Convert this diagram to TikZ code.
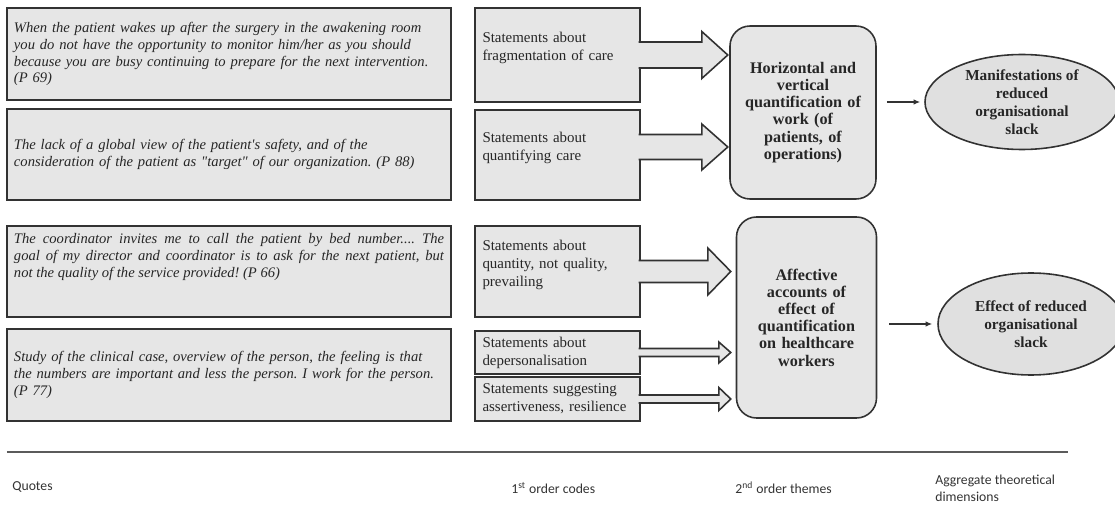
\documentclass[tikz,border=0pt]{standalone}
\usepackage{fontspec}
\setmainfont{Liberation Serif}
\newfontfamily\captionfont{Carlito}
\usetikzlibrary{arrows.meta,positioning,shapes.geometric}
\definecolor{boxfill}{RGB}{230,230,230}
\definecolor{ovalfill}{RGB}{224,224,224}
\definecolor{boxline}{RGB}{50,50,50}
\frenchspacing

% block arrow: anchor, half shaft, half head, neck, tip
\newcommand{\fatarrow}[5]{%
  \filldraw[draw=boxline,line width=0.9pt,fill=boxfill,line join=miter]
    ([xshift=-1.2pt,yshift=#2]#1) -- ([xshift=#4,yshift=#2]#1)
    -- ([xshift=#4,yshift=#3]#1) -- ([xshift=#5]#1)
    -- ([xshift=#4,yshift=-#3]#1) -- ([xshift=#4,yshift=-#2]#1)
    -- ([xshift=-1.2pt,yshift=-#2]#1);}

\begin{document}
\begin{tikzpicture}[
    quote/.style={draw=boxline,line width=0.9pt,fill=boxfill,minimum width=8.88cm,
      text width=8.6cm,inner xsep=0.14cm,inner ysep=0pt,align=left,text=black!85,
      font=\fontsize{8.3}{9.6}\selectfont\itshape},
    code/.style={draw=boxline,line width=0.9pt,fill=boxfill,minimum width=3.3cm,
      text width=3.0cm,inner xsep=0.15cm,inner ysep=0pt,align=left,text=black!85,
      font=\fontsize{8.5}{10.2}\selectfont},
    theme/.style={draw=boxline,line width=0.9pt,fill=boxfill,rounded corners=0.4cm,
      text width=2.6cm,inner xsep=0.1cm,align=center,text=black!85,
      font=\fontsize{9.2}{9.8}\selectfont\bfseries},
    dimension/.style={ellipse,draw=boxline,line width=0.9pt,fill=ovalfill,align=center,
      inner sep=0pt,text=black!85,font=\fontsize{8.7}{10.2}\selectfont\bfseries},
    link/.style={line width=0.7pt,draw=boxline,-{Latex[length=1.3mm,width=1.1mm]}},
    heading/.style={anchor=west,align=left,inner sep=0pt,text=black!80,
      font=\fontsize{7.8}{9.4}\selectfont\captionfont}
  ]
  \useasboundingbox (0,0) rectangle (22.3,-10.28);
  % quotes
  \node[quote,minimum height=1.84cm] (q1) at (4.58,-1.08) {When the patient wakes up after the surgery in the awakening room\\
    you do not have the opportunity to monitor him/her as you should\\
    because you are busy continuing to prepare for the next intervention.\\
    (P 69)};
  \node[quote,minimum height=1.82cm] (q2) at (4.58,-3.09) {The lack of a global view of the patient\textquotesingle s safety, and of the\\
    consideration of the patient as \textquotedbl target\textquotedbl{} of our organization. (P 88)};
  \node[quote,align=justify,text height=0.36cm,text depth=1.46cm] (q3) at (4.58,-5.43) {The coordinator invites me to call the patient by bed number.... The\linebreak
    goal of my director and coordinator is to ask for the next patient, but\linebreak
    not the quality of the service provided! (P 66)};
  \node[quote,minimum height=1.84cm] (q4) at (4.58,-7.5) {Study of the clinical case, overview of the person, the feeling is that\\
    the numbers are important and less the person. I work for the person.\\
    (P 77)};
  % first order codes
  \node[code,text height=0.7cm,text depth=1.18cm] (c1) at (11.15,-1.1) {Statements about\\fragmentation of care};
  \node[code,text height=0.66cm,text depth=1.14cm] (c2) at (11.15,-3.1) {Statements about\\quantifying care};
  \node[code,text height=0.5cm,text depth=1.32cm] (c3) at (11.15,-5.43) {Statements about\\quantity, not quality,\\prevailing};
  \node[code,minimum height=0.86cm] (c4) at (11.15,-7.05) {Statements about\\depersonalisation};
  \node[code,minimum height=0.88cm] (c5) at (11.15,-7.98) {Statements suggesting\\assertiveness, resilience};
  % block arrows into the themes
  \fatarrow{c1.east}{0.26cm}{0.47cm}{1.22cm}{1.74cm}
  \coordinate (a2) at ([yshift=0.16cm]c2.east);
  \fatarrow{a2}{0.25cm}{0.46cm}{1.22cm}{1.74cm}
  \fatarrow{c3.east}{0.22cm}{0.47cm}{1.34cm}{1.8cm}
  \fatarrow{c4.east}{0.08cm}{0.21cm}{1.56cm}{1.8cm}
  \fatarrow{c5.east}{0.08cm}{0.23cm}{1.56cm}{1.8cm}
  % second order themes
  \node[theme,minimum width=2.92cm,minimum height=3.46cm] (r1) at (16.06,-2.25) {Horizontal and\\vertical\\quantification of\\work (of\\patients, of\\operations)};
  \node[theme,minimum width=2.7cm,minimum height=4.02cm] (r2) at (16.13,-6.35) {Affective\\accounts of\\effect of\\quantification\\on healthcare\\workers};
  % aggregate dimensions
  \node[dimension,minimum width=3.88cm,minimum height=1.9cm] (e1) at (20.44,-2.04) {Manifestations of\\reduced\\organisational\\slack};
  \node[dimension,minimum width=3.72cm,minimum height=2.04cm] (e2) at (20.62,-6.48) {Effect of reduced\\organisational\\slack};
  \draw[link,shorten <=0.2cm,shorten >=0.08cm] (r1.east |- e1.west) -- (e1.west);
  \draw[link,shorten <=0.24cm,shorten >=0.1cm] (r2.east |- e2.west) -- (e2.west);
  % column headings
  \draw[line width=1.1pt,draw=boxline!80] (0.14,-9.04) -- (21.36,-9.04);
  \node[heading] (h1) at (0.24,-9.74) {Quotes};
  \node[heading] (h2) at (10.22,-9.76) {1\textsuperscript{st} order codes};
  \node[heading] (h3) at (14.7,-9.76) {2\textsuperscript{nd} order themes};
  \node[heading] (h4) at (18.7,-9.77) {Aggregate theoretical\\dimensions};
\end{tikzpicture}
\end{document}
